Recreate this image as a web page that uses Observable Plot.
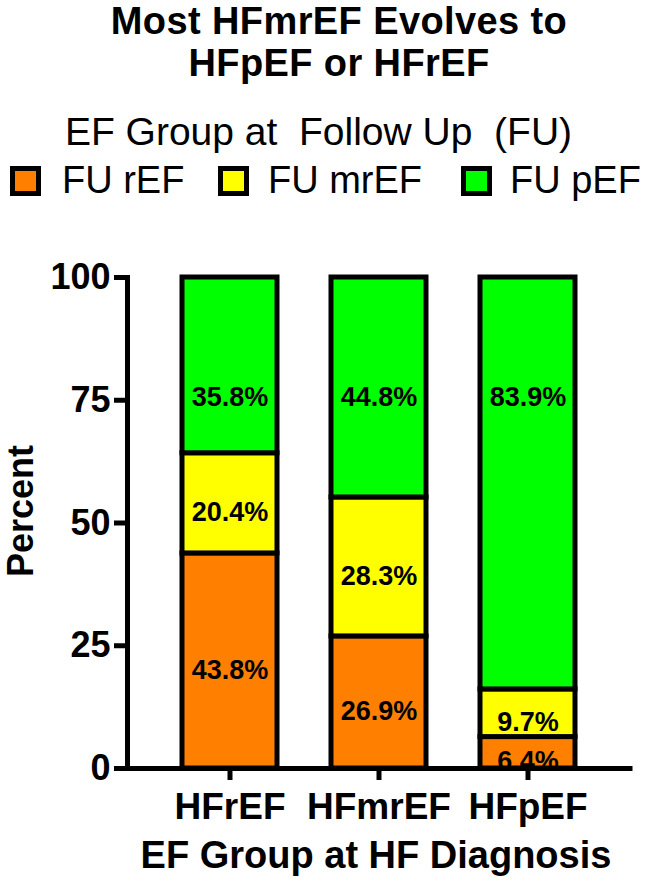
<!DOCTYPE html>
<html>
<head>
<meta charset="utf-8">
<script src="https://cdn.jsdelivr.net/npm/d3@7"></script>
<script src="https://cdn.jsdelivr.net/npm/@observablehq/plot@0.6"></script>
<style>
  html, body { margin: 0; padding: 0; background: #fff; }
  #wrap { position: relative; width: 646px; height: 882px; overflow: hidden; font-family: "Liberation Sans", Arial, sans-serif; color: #000; }
  .abs { position: absolute; white-space: pre; }
  .title { left: 16px; width: 646px; text-align: center; font-weight: bold; font-size: 38px; letter-spacing: 0.4px; line-height: 40px; }
  #t1 { top: 1px; }
  #t2 { top: 43px; }
  #legtitle { left: 0; width: 637px; top: 112px; text-align: center; font-size: 39px; line-height: 40px; }
  .sw { position: absolute; width: 31px; height: 30px; box-sizing: border-box; border: 5px solid #000; top: 166px; }
  .lt { position: absolute; top: 160px; font-size: 38px; line-height: 40px; white-space: pre; }
  #chart { position: absolute; left: 0; top: 0; }
</style>
</head>
<body>
<div id="wrap">
  <div id="t1" class="abs title">Most HFmrEF Evolves to</div>
  <div id="t2" class="abs title">HFpEF or HFrEF</div>
  <div id="legtitle" class="abs">EF Group at  Follow Up  (FU)</div>
  <div id="legend"></div>
  <div id="chart"></div>
</div>
<script>
// ---- data ----
const diagnosis = ["HFrEF", "HFmrEF", "HFpEF"];
const followUp = ["FU rEF", "FU mrEF", "FU pEF"];
const fuREF = [43.8, 26.9, 6.4];
const fuMrEF = [20.4, 28.3, 9.7];
const fuPEF = [35.8, 44.8, 83.9];
const seriesColors = ["#FF8000", "#FFFF00", "#00FF00"];
const yTicks = [0, 25, 50, 75, 100];
const yLabel = "Percent";
const xLabel = "EF Group at HF Diagnosis";

// ---- build tables ----
const seriesValues = [fuREF, fuMrEF, fuPEF];
const rows = [];
diagnosis.forEach((d, i) => {
  let base = 0;
  followUp.forEach((s, j) => {
    const v = seriesValues[j][i];
    rows.push({diagnosis: d, series: s, value: v, mid: base + v / 2, text: v.toFixed(1) + "%"});
    base += v;
  });
});
const lowerLabels = rows.filter(r => r.series !== "FU pEF");
const topLabels = rows.filter(r => r.series === "FU pEF").map(r => ({...r, mid: 75}));

// ---- legend ----
const legend = document.getElementById("legend");
const swX = [10, 218, 461];
const txX = [62, 268, 510];
followUp.forEach((s, j) => {
  const sw = document.createElement("div");
  sw.className = "sw";
  sw.style.left = swX[j] + "px";
  sw.style.background = seriesColors[j];
  legend.appendChild(sw);
  const t = document.createElement("div");
  t.className = "lt";
  t.style.left = txX[j] + "px";
  t.textContent = s;
  legend.appendChild(t);
});

// ---- plot ----
const chart = Plot.plot({
  width: 646,
  height: 882,
  marginTop: 277,
  marginBottom: 114,
  marginLeft: 127,
  marginRight: 16,
  style: {fontFamily: "Liberation Sans, Arial, sans-serif", background: "transparent", overflow: "visible", color: "#000"},
  x: {type: "band", domain: diagnosis, padding: 0.365, label: null, axis: null},
  y: {domain: [0, 100], label: null, axis: null},
  color: {type: "ordinal", domain: followUp, range: seriesColors},
  marks: [
    Plot.barY(rows, {x: "diagnosis", y: "value", fill: "series", stroke: "#000", strokeWidth: 5}),
    Plot.text(lowerLabels, {x: "diagnosis", y: "mid", text: "text", fontSize: 27, fontWeight: "bold", fill: "#000", dy: 9}),
    Plot.text(topLabels, {x: "diagnosis", y: "mid", text: "text", fontSize: 27, fontWeight: "bold", fill: "#000", dy: -3}),
    Plot.axisY({ticks: yTicks, tickFormat: d => String(d), tickSize: 13, tickPadding: 4, fontSize: 36, fontWeight: "bold", strokeWidth: 5, label: null}),
    Plot.axisX({tickSize: 12, tickPadding: 12, fontSize: 37, fontWeight: "bold", strokeWidth: 5, label: null}),
    Plot.ruleY([0], {strokeWidth: 5, strokeLinecap: "square"}),
    Plot.frame({anchor: "left", strokeWidth: 5, strokeLinecap: "square"}),
    Plot.text([yLabel], {frameAnchor: "left", textAnchor: "middle", lineAnchor: "middle", rotate: -90, dx: -106, dy: -12, fontSize: 36, fontWeight: "bold", fill: "#000"}),
    Plot.text([xLabel], {frameAnchor: "bottom", textAnchor: "middle", lineAnchor: "middle", dx: -3, dy: 87, fontSize: 38, fontWeight: "bold", fill: "#000"})
  ]
});
document.getElementById("chart").appendChild(chart);
</script>
</body>
</html>
